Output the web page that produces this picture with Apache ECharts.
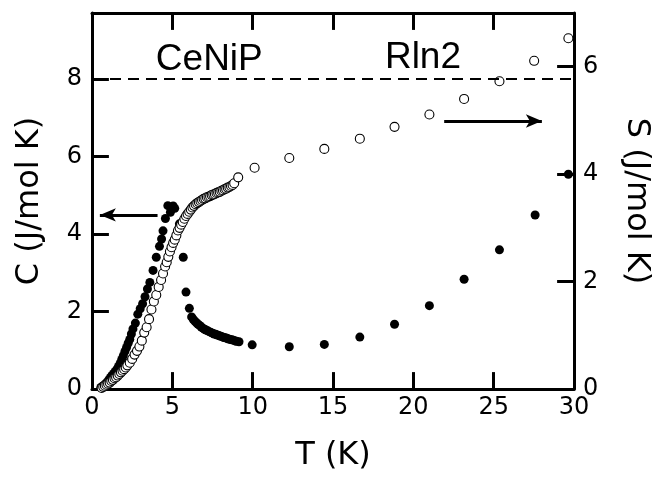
<!DOCTYPE html>
<html>
<head>
<meta charset="utf-8">
<script src="https://cdn.jsdelivr.net/npm/echarts@6/dist/echarts.min.js"></script>
<style>
html,body{margin:0;padding:0;background:#fff;}
#chart{width:660px;height:477px;}
</style>
</head>
<body>
<div id="chart"></div>
<script>
// Specific heat C (J/mol K), filled circles, left axis
const cT = [0.55,0.65,0.75,0.85,0.95,1.05,1.15,1.25,1.35,1.45,1.55,1.65,1.75,1.85,1.95,2.05,2.15,2.25,2.35,2.45,2.55,2.7,2.85,3.0,3.15,3.3,3.45,3.6,3.8,4.0,4.2,4.33,4.42,4.57,4.72,4.88,5.05,5.15,5.44,5.68,5.85,6.06,6.2,6.3,6.4,6.5,6.6,6.7,6.8,6.9,7.0,7.1,7.2,7.3,7.4,7.5,7.6,7.7,7.8,7.9,8.0,8.1,8.2,8.3,8.4,8.5,8.6,8.7,8.8,8.9,9.0,9.15,9.97,12.28,14.46,16.67,18.83,21.0,23.16,25.36,27.58,29.65];
const cVal = [0.04,0.07,0.10,0.14,0.18,0.24,0.30,0.35,0.40,0.45,0.51,0.58,0.66,0.76,0.86,0.97,1.07,1.18,1.28,1.42,1.55,1.70,1.93,2.07,2.20,2.38,2.58,2.75,3.06,3.40,3.68,3.87,4.08,4.40,4.73,4.56,4.72,4.66,4.26,3.40,2.50,2.08,1.86,1.80,1.75,1.71,1.67,1.64,1.60,1.57,1.54,1.52,1.50,1.48,1.46,1.44,1.42,1.41,1.39,1.38,1.36,1.35,1.33,1.32,1.31,1.29,1.28,1.27,1.26,1.24,1.23,1.22,1.14,1.09,1.15,1.34,1.67,2.15,2.83,3.59,4.49,5.54];
// Entropy S (J/mol K), open circles, right axis
const sT = [0.6,0.7,0.8,0.9,1.0,1.1,1.2,1.3,1.4,1.5,1.6,1.7,1.8,1.9,2.0,2.1,2.2,2.35,2.5,2.65,2.8,2.95,3.1,3.25,3.4,3.55,3.7,3.85,4.0,4.15,4.3,4.42,4.55,4.65,4.75,4.85,4.95,5.05,5.15,5.25,5.35,5.45,5.55,5.65,5.75,5.85,5.95,6.05,6.15,6.25,6.35,6.45,6.55,6.65,6.75,6.85,6.95,7.05,7.15,7.25,7.35,7.45,7.55,7.65,7.75,7.85,7.95,8.05,8.15,8.25,8.35,8.45,8.55,8.65,8.75,8.85,9.1,10.12,12.28,14.46,16.67,18.83,21.0,23.16,25.36,27.52,29.65];
const sVal = [0.02,0.04,0.06,0.08,0.10,0.12,0.15,0.17,0.20,0.22,0.25,0.28,0.31,0.34,0.37,0.40,0.44,0.49,0.56,0.64,0.71,0.79,0.90,1.05,1.15,1.30,1.48,1.63,1.75,1.90,2.03,2.15,2.28,2.36,2.46,2.56,2.64,2.72,2.78,2.86,2.95,3.00,3.06,3.11,3.17,3.22,3.26,3.30,3.34,3.38,3.41,3.44,3.46,3.48,3.50,3.52,3.54,3.55,3.57,3.58,3.59,3.61,3.62,3.63,3.65,3.66,3.67,3.69,3.70,3.72,3.73,3.75,3.76,3.78,3.80,3.83,3.94,4.12,4.30,4.47,4.66,4.88,5.11,5.40,5.73,6.11,6.53];
const xTicks = [0,5,10,15,20,25,30];
const cTicks = [0,2,4,6,8];
const sTicks = [0,2,4,6];
const rln2C = 8;              // dashed line level (left axis)
const leftArrow = [[4.08,4.49],[0.49,4.49]];   // C axis
const rightArrow = [[21.92,4.99],[28.0,4.99]]; // S axis
const labelCeNiP = 'CeNiP';
const labelRln2 = 'Rln2';

const X_MIN = 0, X_MAX = 30, C_MAX = 9.7, S_MAX = 7;
const GRID = {left:92, right:83, top:13, bottom:86};
const W = 660, H = 477;
const TICK_LEN = 17;
const tickFont = 'DejaVu Sans';
const black = '#000';

const chart = echarts.init(document.getElementById('chart'), null, {renderer:'canvas'});
const zip = (a,b)=>a.map((v,i)=>[v,b[i]]);

// tick length converted to data units of each axis
const gridW = W - GRID.left - GRID.right, gridH = H - GRID.top - GRID.bottom;
const xLen = TICK_LEN * (X_MAX - X_MIN) / gridW;
const cLen = TICK_LEN * C_MAX / gridH;

const tickLS = {color:black, width:3, type:'solid'};
const seg = (a, b) => [{coord:a, symbol:'none', lineStyle:tickLS}, {coord:b, symbol:'none'}];
const inner = xTicks.slice(1, -1);
const cTickSegs = []
  .concat(inner.map(v => seg([v, 0], [v, cLen])))                 // bottom, inward
  .concat(inner.map(v => seg([v, C_MAX], [v, C_MAX - cLen])))     // top, inward
  .concat(cTicks.slice(1).map(v => seg([X_MIN, v], [X_MIN + xLen, v]))); // left
const sTickSegs = sTicks.slice(1).map(v => seg([X_MAX, v], [X_MAX - xLen, v])); // right

const mkLine = ()=>({show:true, onZero:false, lineStyle:{color:black, width:3}});

chart.setOption({
  animation:false,
  backgroundColor:'#fff',
  grid:{left:GRID.left, right:GRID.right, top:GRID.top, bottom:GRID.bottom, containLabel:false},
  xAxis:[{
    type:'value', position:'bottom', min:X_MIN, max:X_MAX, interval:5,
    axisLine:mkLine(), axisTick:{show:false}, splitLine:{show:false},
    axisLabel:{color:black, fontFamily:tickFont, fontSize:24, margin:7,
      formatter:v=>xTicks.includes(v)?String(v):''},
    name:'T (K)', nameLocation:'middle', nameGap:51,
    nameTextStyle:{color:black, fontFamily:tickFont, fontSize:32}
  },{
    type:'value', position:'top', min:X_MIN, max:X_MAX, interval:5,
    axisLine:mkLine(), axisTick:{show:false}, splitLine:{show:false},
    axisLabel:{show:false}
  }],
  yAxis:[{
    type:'value', position:'left', min:0, max:C_MAX, interval:2,
    axisLine:mkLine(), axisTick:{show:false}, splitLine:{show:false},
    axisLabel:{color:black, fontFamily:tickFont, fontSize:24, margin:10,
      formatter:v=>cTicks.includes(v)?String(v):''},
    name:'C (J/mol K)', nameLocation:'middle', nameGap:46,
    nameTextStyle:{color:black, fontFamily:tickFont, fontSize:32}
  },{
    type:'value', position:'right', min:0, max:S_MAX, interval:2, alignTicks:false,
    axisLine:mkLine(), axisTick:{show:false}, splitLine:{show:false},
    axisLabel:{color:black, fontFamily:tickFont, fontSize:24, margin:9,
      formatter:v=>sTicks.includes(v)?String(v):''},
    name:'S (J/mol K)', nameLocation:'middle', nameGap:46, nameRotate:-90,
    nameTextStyle:{color:black, fontFamily:tickFont, fontSize:32}
  }],
  series:[{
    name:'C', type:'scatter', xAxisIndex:0, yAxisIndex:0,
    data:zip(cT,cVal), symbol:'circle', symbolSize:9,
    itemStyle:{color:black, borderWidth:0, opacity:1}, z:2,
    markLine:{
      silent:true, animation:false,
      data:[
        [{coord:leftArrow[0], symbol:'none'},{coord:leftArrow[1], symbol:'arrow', symbolSize:[10,16]}],
        [{yAxis:rln2C, x:GRID.left, symbol:'none', lineStyle:{type:[11,7], width:2, color:black}},{yAxis:rln2C, x:W-GRID.right, symbol:'none'}]
      ].concat(cTickSegs),
      label:{show:false},
      lineStyle:{color:black, width:3, type:'solid'}
    }
  },{
    name:'S', type:'scatter', xAxisIndex:0, yAxisIndex:1,
    data:zip(sT,sVal), symbol:'circle', symbolSize:9,
    itemStyle:{color:'#fff', borderColor:black, borderWidth:1.1, opacity:1}, z:3,
    markLine:{
      silent:true, animation:false,
      data:[
        [{coord:rightArrow[0], symbol:'none'},{coord:rightArrow[1], symbol:'arrow', symbolSize:[10,16]}]
      ].concat(sTickSegs),
      label:{show:false},
      lineStyle:{color:black, width:3, type:'solid'}
    }
  }]
});

// Text annotations positioned via data coordinates
const p1 = chart.convertToPixel({xAxisIndex:0, yAxisIndex:0}, [7.3, 8.5]);
const p2 = chart.convertToPixel({xAxisIndex:0, yAxisIndex:0}, [20.6, 8.55]);
chart.setOption({graphic:[
  {type:'text', x:p1[0], y:p1[1], style:{text:labelCeNiP, fill:black, font:'37px "Liberation Sans", Arial, sans-serif', align:'center', verticalAlign:'middle'}},
  {type:'text', x:p2[0], y:p2[1], style:{text:labelRln2, fill:black, font:'37px "Liberation Sans", Arial, sans-serif', align:'center', verticalAlign:'middle'}}
]});
</script>
</body>
</html>
